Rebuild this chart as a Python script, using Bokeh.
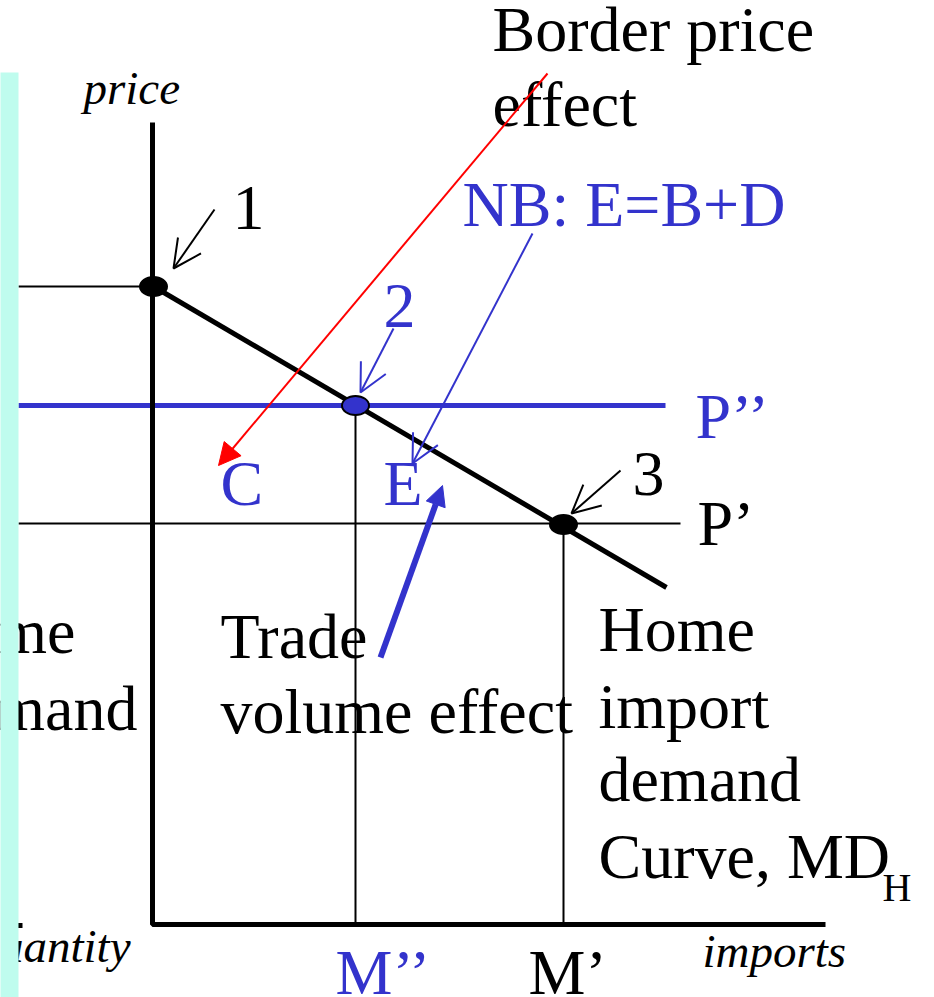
from bokeh.plotting import figure
from bokeh.models import Range1d, Arrow, OpenHead, NormalHead
from bokeh.core.properties import value
from bokeh.embed import file_html
from bokeh.resources import INLINE

# ---- diagram values (imports on x, price on y; arbitrary units) ----
md_q = [1, 514]            # home import demand curve MD_H (end points)
md_p = [638, 337]
point_names = ["1", "2", "3"]
point_q = [1, 203, 411]    # equilibrium points
point_p = [638, 519, 400]
p_autarky = 638            # price at point 1
p_dd = 519                 # P''
p_d = 401                  # P'
m_dd = 203                 # M''
m_d = 411                  # M'
axis_q_max = 673
axis_p_max = 802
left_q = -134              # left edge of the truncated left panel

BLUE = "#3333cc"
RED = "#ff0000"
SERIF = "Liberation Serif"
BIG = 64
ITAL = 47

p = figure(width=934, height=997, x_range=Range1d(-152, 782), y_range=Range1d(-73, 924),
           output_backend="svg", toolbar_location=None, min_border=0)
p.axis.visible = False
p.grid.visible = False
p.outline_line_color = None
p.background_fill_color = "white"
p.border_fill_color = "white"

# thin reference lines
p.segment(x0=[left_q], y0=[p_autarky], x1=[0], y1=[p_autarky], line_color="black", line_width=2)
p.segment(x0=[left_q], y0=[p_d], x1=[528], y1=[p_d], line_color="black", line_width=2)
p.segment(x0=[m_dd, m_d], y0=[p_dd, p_d], x1=[m_dd, m_d], y1=[0, 0], line_color="black", line_width=2)
# P'' world price line
p.segment(x0=[left_q], y0=[p_dd], x1=[513], y1=[p_dd], line_color=BLUE, line_width=5)
# axes
p.line(x=[0, 0, axis_q_max], y=[axis_p_max, 0, 0], line_color="black", line_width=5)
p.segment(x0=[-140], y0=[-1], x1=[-130], y1=[-1], line_color="black", line_width=5)
# MD curve
p.line(x=md_q, y=md_p, line_color="black", line_width=5)

# arrows
p.add_layout(Arrow(end=NormalHead(size=22, fill_color=RED, line_color=RED, line_width=1),
                   x_start=395, y_start=851, x_end=66, y_end=459, line_color=RED, line_width=2))
p.add_layout(Arrow(end=OpenHead(size=28, line_color="black", line_width=2),
                   x_start=62, y_start=715, x_end=21, y_end=656, line_color="black", line_width=2))
p.add_layout(Arrow(end=OpenHead(size=28, line_color=BLUE, line_width=2),
                   x_start=241, y_start=596, x_end=208, y_end=532, line_color=BLUE, line_width=2))
p.add_layout(Arrow(end=OpenHead(size=28, line_color=BLUE, line_width=2),
                   x_start=380, y_start=691, x_end=260, y_end=461, line_color=BLUE, line_width=2))
p.add_layout(Arrow(end=OpenHead(size=28, line_color="black", line_width=2),
                   x_start=468, y_start=454, x_end=419, y_end=411, line_color="black", line_width=2))
p.add_layout(Arrow(end=NormalHead(size=20, fill_color=BLUE, line_color=BLUE, line_width=1),
                   x_start=228, y_start=267, x_end=290, y_end=439, line_color=BLUE, line_width=6))

# points
p.ellipse(x=point_q, y=point_p, width=27, height=19,
          fill_color=["black", BLUE, "black"], line_color="black", line_width=2)


def txt(x, y, s, color="black", size=BIG, style="normal", align="left"):
    # y is the visual baseline; compensate the renderer's baseline offset
    p.text(x=[x], y=[y + 0.38 * size], text=[s], text_font=value(SERIF),
           text_font_size=value(f"{size}px"), text_color=color, text_font_style=style,
           text_baseline="alphabetic", text_align=align)


txt(340, 871, "Border price")
txt(340, 796, "effect")
txt(-69, 819, "price", size=ITAL, style="italic")
txt(80, 692, point_names[0])
txt(310, 696, "NB: E=B+D", color=BLUE)
txt(231, 594, point_names[1], color=BLUE)
txt(543, 484, "P\u2019\u2019", color=BLUE)
txt(68, 417, "C", color=BLUE)
txt(231, 417, "E", color=BLUE)
txt(480, 426, point_names[2])
txt(545, 377, "P\u2019")
txt(68, 264, "Trade")
txt(68, 189, "volume effect")
txt(446, 271, "Home")
txt(446, 194, "import")
txt(446, 121, "demand")
txt(446, 44, "Curve, MD")
txt(730, 22, "H", size=40)
txt(-77, 269, "Home", align="right")
txt(-15, 192, "demand", align="right")
txt(-22, -39, "quantity", size=ITAL, style="italic", align="right")
txt(550, -44, "imports", size=ITAL, style="italic")
txt(183, -72, "M\u2019\u2019", color=BLUE)
txt(376, -72, "M\u2019")

# cyan strip of the neighbouring panel
p.quad(left=[-200], right=[left_q], bottom=[-200], top=[852], fill_color="#bffcee", line_color=None)

open("out.html", "w").write(file_html(p, INLINE))
